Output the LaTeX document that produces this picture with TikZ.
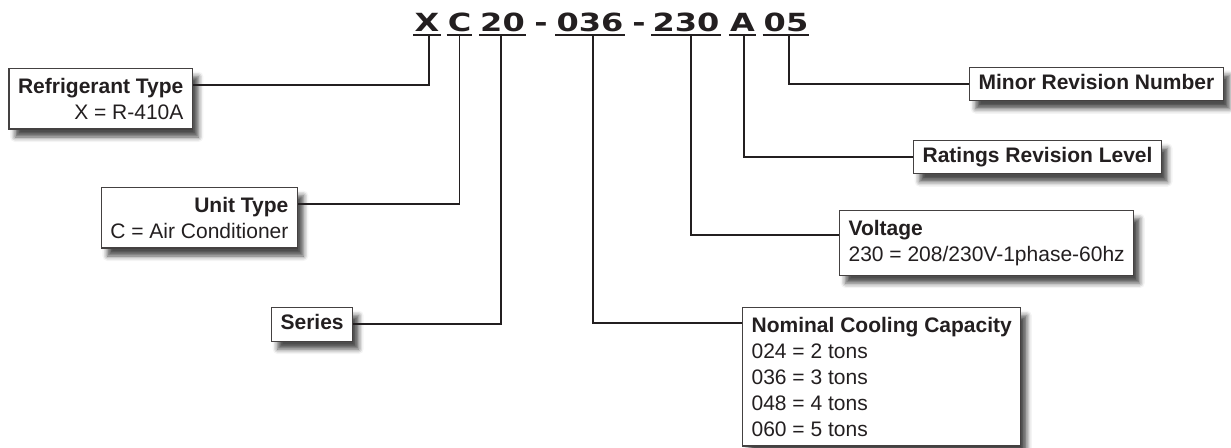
\documentclass[tikz,border=0pt]{standalone}
\usepackage{fontspec}
\setmainfont{Liberation Sans}
\newfontfamily\codefont{DejaVu Sans}
\usetikzlibrary{shadows.blur}

\definecolor{ink}{HTML}{231F20}
\tikzset{
  infobox/.style={draw=ink!85, line width=1.2pt, fill=white, text=ink,
    font=\fontsize{21}{26}\selectfont, inner xsep=9pt, inner ysep=9.5pt,
    blur shadow={shadow xshift=6pt, shadow yshift=-8pt, shadow blur radius=5pt, shadow opacity=70}},
  onebox/.style={infobox, text height=15pt, text depth=4.5pt, inner ysep=7pt},
  code/.style={font=\codefont\bfseries\fontsize{25}{30}\selectfont, text=ink,
    inner xsep=1pt, inner ysep=0pt, text depth=3.5pt, anchor=base},
  uline/.style={ink, line width=2.2pt},
  link/.style={ink, line width=1.8pt},
}

\begin{document}
\begin{tikzpicture}[x=1pt, y=-1pt]
\useasboundingbox (0,0) rectangle (1231,447);

% model number
\node[code](cX) at (427,31){\scalebox{1.28}[1]{X}};
\node[code](cC) at (459.5,31){\scalebox{1.28}[1]{C}};
\node[code](cSer) at (502.5,31){\scalebox{1.28}[1]{20}};
\node[code](h1) at (541,31){\scalebox{1.28}[1]{-}};
\node[code](cCap) at (590,31){\scalebox{1.28}[1]{036}};
\node[code](h2) at (639,31){\scalebox{1.28}[1]{-}};
\node[code](cVolt) at (686,31){\scalebox{1.28}[1]{230}};
\node[code](cRate) at (742.5,31){\scalebox{1.28}[1]{A}};
\node[code](cRev) at (786,31){\scalebox{1.28}[1]{05}};
\foreach \c in {cX,cC,cSer,cCap,cVolt,cRate,cRev}
  \draw[uline](\c.south west)--(\c.south east);

% boxes
\node[infobox, align=right, anchor=north east](refr) at (193,68){\textbf{Refrigerant Type}\\X = R-410A};
\node[infobox, align=right, anchor=north east](unit) at (298,187){\textbf{Unit Type}\\C = Air Conditioner};
\node[onebox, anchor=north west](series) at (271,307){\textbf{Series}};
\node[infobox, align=left, anchor=north west](nom) at (742,307){\textbf{Nominal Cooling Capacity}\\024 = 2 tons\\036 = 3 tons\\048 = 4 tons\\060 = 5 tons};
\node[infobox, align=left, anchor=north west](volt) at (839,210){\textbf{Voltage}\\230 = 208/230V-1phase-60hz};
\node[onebox, anchor=west](rate) at (913,157){\textbf{Ratings Revision Level}};
\node[onebox, anchor=west](minor) at (969,84){\textbf{Minor Revision Number}};

% connectors
\draw[link]([xshift=2pt]cX.south)|-([yshift=-17pt]refr.north east);
\draw[link](cC.south)|-([yshift=-17pt]unit.north east);
\draw[link]([xshift=-1.5pt]cSer.south)|-(series.east);
\draw[link]([xshift=3pt]cCap.south)|-([yshift=-16pt]nom.north west);
\draw[link]([xshift=5pt]cVolt.south)|-([yshift=-25pt]volt.north west);
\draw[link]([xshift=1.5pt]cRate.south)|-(rate.west);
\draw[link]([xshift=3pt]cRev.south)|-(minor.west);

\end{tikzpicture}
\end{document}
